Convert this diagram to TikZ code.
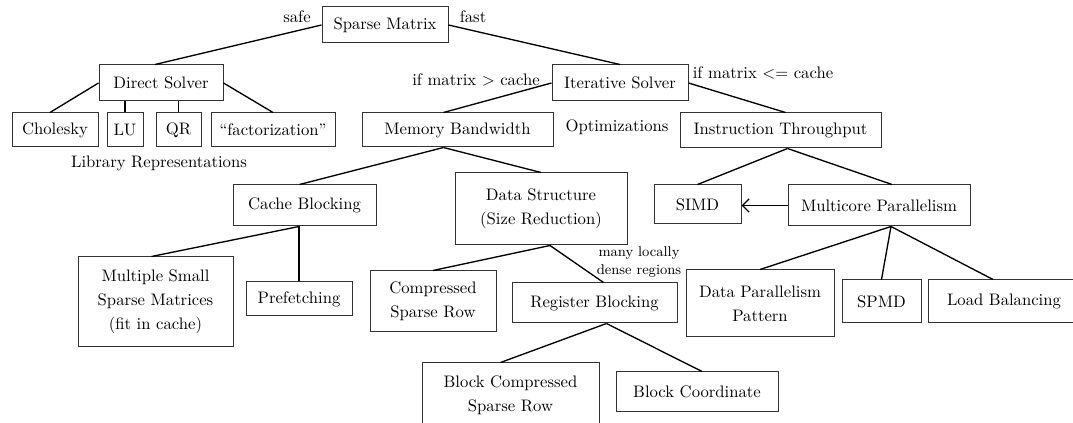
\documentclass[tikz,border=0pt]{standalone}
\usetikzlibrary{arrows.meta,positioning,calc}
\newlength\pxlen
\setlength\pxlen{0.6pt}

\begin{document}
\begin{tikzpicture}[x=0.6pt, y=-0.6pt, >={Straight Barb[length=4pt,width=8pt]},
    font=\fontsize{10}{14.5}\selectfont,
    box/.style 2 args={draw=black!80, line width=0.6pt, align=center, inner sep=0pt,
        minimum width=#1\pxlen, minimum height=#2\pxlen},
    edge/.style={line width=0.8pt},
    note/.style={inner sep=0pt, align=center}]
                \useasboundingbox (0,0) rectangle (1073,423);
                \clip (0,0) rectangle (1073,423);

                % root and the two solvers
                \node[box={126}{36}] (SM) at (385,25) {Sparse Matrix};
                \node[box={124}{36}] (DS) at (161,83) {Direct Solver};
                \node[box={136}{36}] (IS) at (620,83) {Iterative Solver};

                % direct solver leaves
                \node[box={86}{34}] (CH) at (55,130) {Cholesky};
                \node[box={36}{34}] (LU) at (125,130) {LU};
                \node[box={45}{34}] (QR) at (178.5,130) {QR};
                \node[box={124}{34}] (FA) at (273,130) {“factorization”};

                % optimizations
                \node[box={191}{34}] (MB) at (457.5,130) {Memory Bandwidth};
                \node[box={201}{35}] (IT) at (780.5,130.5) {Instruction Throughput};
                \node[box={143}{41}] (CB) at (304.5,205.5) {Cache Blocking};
                \node[box={172}{72}] (DT) at (541,209) {Data Structure\\(Size Reduction)};
                \node[box={87}{39}] (SI) at (697.5,204.5) {SIMD};
                \node[box={182}{41}] (MP) at (879,205.5) {Multicore Parallelism};

                % third level
                \node[box={155}{90}] (MS) at (155.5,302) {Multiple Small\\Sparse Matrices\\(fit in cache)};
                \node[box={106}{34}] (PF) at (299,299) {Prefetching};
                \node[box={126}{61}] (CS) at (433,301.5) {Compressed\\Sparse Row};
                \node[box={165}{40}] (RB) at (594.5,303) {Register Blocking};
                \node[box={148}{67}] (DP) at (760,303.5) {Data Parallelism\\Pattern};
                \node[box={79}{43}] (SP) at (881.5,301.5) {SPMD};
                \node[box={152}{43}] (LB) at (1004,301.5) {Load Balancing};

                % register blocking formats
                \node[box={177}{64}] (BS) at (510.5,395) {Block Compressed\\Sparse Row};
                \node[box={162}{40}] (BC) at (697,392) {Block Coordinate};

                % edge labels
                \node[note] (safe) at (297,17) {safe};
                \node[note] (fast) at (473,17) {fast};
                \node[note] (big) at (476,80) {if matrix > cache};
                \node[note] (small) at (763,73) {if matrix <= cache};
                \node[note] (opt) at (617,127) {Optimizations};
                \node[note] (lib) at (159,163) {Library Representations};
                \node[note, font=\fontsize{8.5}{11}\selectfont] (dense) at (639,262)
                    {many locally\\dense regions};

                % split points off the box centres
                \coordinate (MB') at ($(MB.south)+(-14,0)$);
                \coordinate (IT') at ($(IT.south)+(7,0)$);
                \coordinate (CB') at (PF.north |- CB.south);
                \coordinate (DT') at ($(DT.south)+(9,0)$);
                \coordinate (RB') at ($(RB.south)+(12,0)$);
                \coordinate (MP') at ($(MP.south)+(12,0)$);

                \draw[edge] (SM.west) -- ($(DS.north)+(-6,0)$);
                \draw[edge] (SM.east) -- (IS.north);

                \draw[edge] (DS.west) -- ($(CH.north)+(-5,0)$);
                \draw[edge] (LU.north) -- (LU.north |- DS.south);
                \draw[edge] (QR.north) -- (QR.north |- DS.south);
                \draw[edge] (DS.east) -- (FA.north);

                \draw[edge] (IS.west) -- ($(MB.north)+(-14,0)$);
                \draw[edge] (IS.east) -- ($(IT.north)+(5,0)$);

                \draw[edge] (MB') -- ($(CB.north)+(-5,0)$);
                \draw[edge] (MB') -- (DT.north);

                \draw[edge] (IT') -- (SI.north);
                \draw[edge] (IT') -- ($(MP.north)+(13,0)$);
                \draw[edge, ->] (MP.west) -- (MP.west -| SI.east);

                \draw[edge] (CB') -- ($(MS.north)+(-4,0)$);
                \draw[edge] (CB') -- (PF.north);

                \draw[edge] (DT') -- (CS.north);
                \draw[edge] (DT') -- ($(RB.north)+(9,0)$);

                \draw[edge] (RB') -- ($(BS.north)+(-10,0)$);
                \draw[edge] (RB') -- ($(BC.north)+(5,0)$);

                \draw[edge] (MP') -- (DP.north);
                \draw[edge] (MP') -- (SP.north);
                \draw[edge] (MP') -- ($(LB.north)+(-11,0)$);
            \end{tikzpicture}
\end{document}
